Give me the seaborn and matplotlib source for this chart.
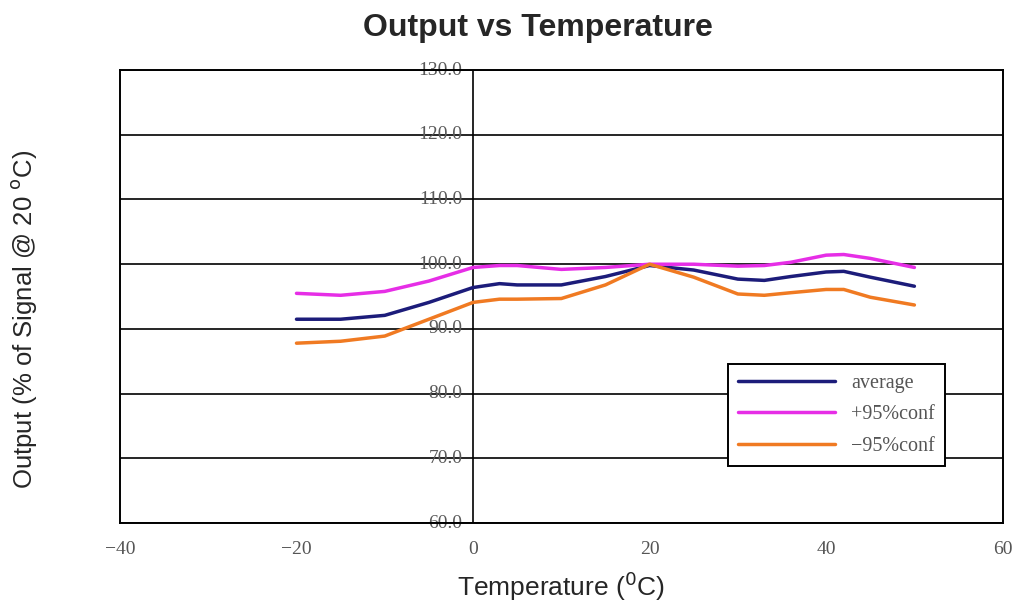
import pandas as pd
import matplotlib
matplotlib.use("Agg")
import matplotlib.pyplot as plt
import seaborn as sns

# Values
temps = [-20, -15, -10, -5, 0, 3, 5, 10, 15, 20, 25, 30, 33, 36, 40, 42, 45, 50]
average = [91.5, 91.5, 92.1, 94.1, 96.4, 97.0, 96.8, 96.8, 98.1, 99.8, 99.1, 97.7, 97.5, 98.1, 98.8, 98.9, 98.0, 96.6]
upper = [95.5, 95.2, 95.8, 97.4, 99.5, 99.8, 99.8, 99.2, 99.5, 100.0, 100.0, 99.7, 99.8, 100.3, 101.4, 101.5, 100.9, 99.5]
lower = [87.8, 88.1, 88.9, 91.5, 94.1, 94.6, 94.6, 94.7, 96.8, 100.0, 98.0, 95.4, 95.2, 95.6, 96.1, 96.1, 94.9, 93.7]

series_names = ['average', '+95%conf', '\u221295%conf']
colors = ['#1c1c7a', '#e62ee6', '#f07a22']

x_ticks = [-40, -20, 0, 20, 40, 60]
y_ticks = [60, 70, 80, 90, 100, 110, 120, 130]

df = pd.concat([
    pd.DataFrame({'Temp': temps, 'Output': vals, 'Series': name})
    for name, vals in zip(series_names, [average, upper, lower])
])

sns.set_theme(style="white")
fig = plt.figure(figsize=(10.2, 6.09), dpi=100)
ax = fig.add_axes([0.1176, 0.141, 0.8654, 0.744])

sns.lineplot(data=df, x='Temp', y='Output', hue='Series', palette=colors,
             linewidth=2.5, ax=ax, sort=False)

ax.set_xlim(-40, 60)
ax.set_ylim(60, 130)

# horizontal grid lines and vertical axis at x = 0
for y in y_ticks:
    ax.axhline(y, color='black', linewidth=1.2, zorder=1)
ax.axvline(0, color='black', linewidth=1.2, zorder=1)
for s in ax.spines.values():
    s.set_color('black')
    s.set_linewidth(1.4)

ax.set_xticks(x_ticks)
ax.set_xticklabels([str(t).replace('-', '\u2212') for t in x_ticks],
                   family='Liberation Serif', fontsize=14, color='#555555')
ax.tick_params(axis='x', length=0, pad=13)
ax.set_yticks([])
for y in y_ticks:
    ax.text(-1.2, y, f'{y:.1f}', ha='right', va='center',
            family='Liberation Serif', fontsize=14, color='#5a5a5a', zorder=2)

ax.set_xlabel('Temperature ($^0$C)', family='Liberation Sans', fontsize=19, labelpad=8)
ax.set_ylabel('Output (% of Signal @ 20 $^{\\rm o}$C)', family='Liberation Sans', fontsize=18.5)
ax.yaxis.set_label_coords(-0.092, 0.45)
fig.suptitle('Output vs Temperature', x=0.527, y=0.978, fontsize=23,
             fontweight='bold', family='Liberation Sans')

leg = ax.legend(loc='upper left', bbox_to_anchor=(0.689, 0.351), frameon=True,
                fancybox=False, framealpha=1, edgecolor='black',
                prop={'family': 'Liberation Serif', 'size': 14.5},
                handlelength=4.8, borderpad=0.5, labelspacing=0.6,
                handletextpad=0.8, borderaxespad=0)
leg.get_frame().set_linewidth(1.4)
for t in leg.get_texts():
    t.set_color('#555555')

fig.savefig('out.png', dpi=100)
